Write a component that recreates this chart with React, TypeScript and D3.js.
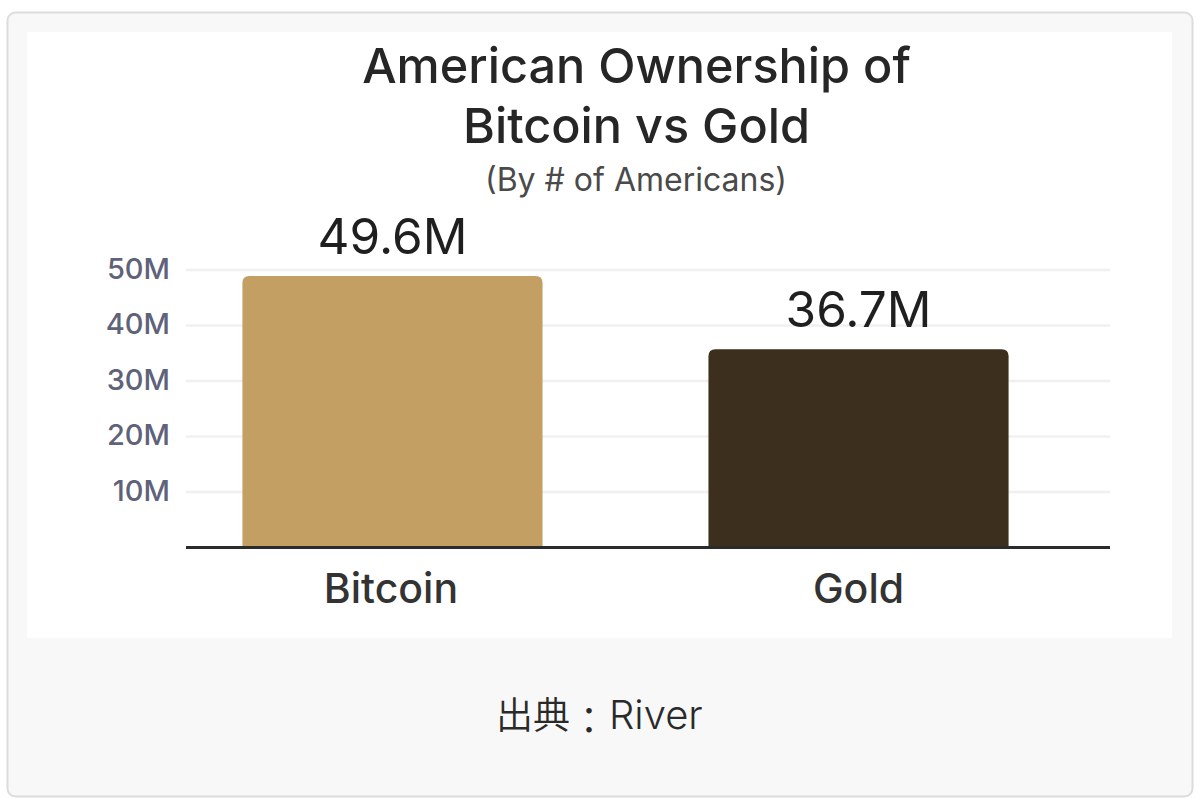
import React from "react";
import * as d3 from "d3";

const categories = ["Bitcoin", "Gold"];
const barHeightsAsDrawn = [48.9, 35.7];
const valueLabels = ["49.6M", "36.7M"];
const barColors = ["#C39F63", "#3D2F1E"];
const ticks = [10, 20, 30, 40, 50];
const titleLines = ["American Ownership of", "Bitcoin vs Gold"];
const subtitle = "(By # of Americans)";
const sourceParts = ["出典", "：", "River"];

const font = "Inter, 'Noto Sans', sans-serif";

export default function App() {
  const y = d3.scaleLinear().domain([0, 50]).range([547.5, 270]);
  const x = d3.scaleBand<string>().domain(categories).range([159, 1092]).paddingInner(0.356).paddingOuter(0.179);
  const bw = x.bandwidth();
  const r = 7;
  return (
    <svg width={1200} height={798} style={{ position: "absolute", left: 0, top: 0, background: "#fff" }} fontFamily={font}>
      <rect x={7.5} y={12.5} width={1185} height={784} rx={8} fill="#F8F8F8" stroke="#DCDCDC" strokeWidth={2} />
      <rect x={27} y={32} width={1145} height={606} fill="#FFFFFF" />
      {titleLines.map((t, i) => (
        <text key={t} x={636.5} y={83 + i * 60} textAnchor="middle" fontSize={48.6} fontWeight={450} fill="#262626">{t}</text>
      ))}
      <text x={636} y={191} textAnchor="middle" fontSize={32} fill="#4A4A4A">{subtitle}</text>
      {ticks.map((t) => (
        <g key={t}>
          <line x1={186} x2={1110} y1={y(t)} y2={y(t)} stroke="#F0F0F0" strokeWidth={2.5} />
          <text x={170} y={y(t) + 8.5} textAnchor="end" fontSize={29} fontWeight={450} fill="#60627A">{t}M</text>
        </g>
      ))}
      {categories.map((c, i) => {
        const left = x(c) as number;
        const mid = left + bw / 2;
        const top = y(barHeightsAsDrawn[i]);
        const path = d3.path();
        path.moveTo(left, y(0));
        path.lineTo(left, top + r);
        path.quadraticCurveTo(left, top, left + r, top);
        path.lineTo(left + bw - r, top);
        path.quadraticCurveTo(left + bw, top, left + bw, top + r);
        path.lineTo(left + bw, y(0));
        path.closePath();
        return (
          <g key={c}>
            <path d={path.toString()} fill={barColors[i]} />
            <text x={mid} y={top - 22} textAnchor="middle" fontSize={49.5} fontWeight={440} fill="#1F1F1F">{valueLabels[i]}</text>
            <text x={mid - (i === 0 ? 1.5 : 0)} y={603} textAnchor="middle" fontSize={41} fontWeight={470} fill="#333333">{c}</text>
          </g>
        );
      })}
      <line x1={186} x2={1110} y1={y(0)} y2={y(0)} stroke="#2B2B2B" strokeWidth={3} />
      <text y={729} fontWeight={350} fill="#2A2A2A" fontFamily="Inter, 'Noto Sans CJK JP', sans-serif">
        <tspan x={496} fontSize={37}>{sourceParts[0]}</tspan>
        <tspan x={570} dy={5} fontSize={38}>{sourceParts[1]}</tspan>
        <tspan x={609} dy={-5} fontSize={40}>{sourceParts[2]}</tspan>
      </text>
    </svg>
  );
}
